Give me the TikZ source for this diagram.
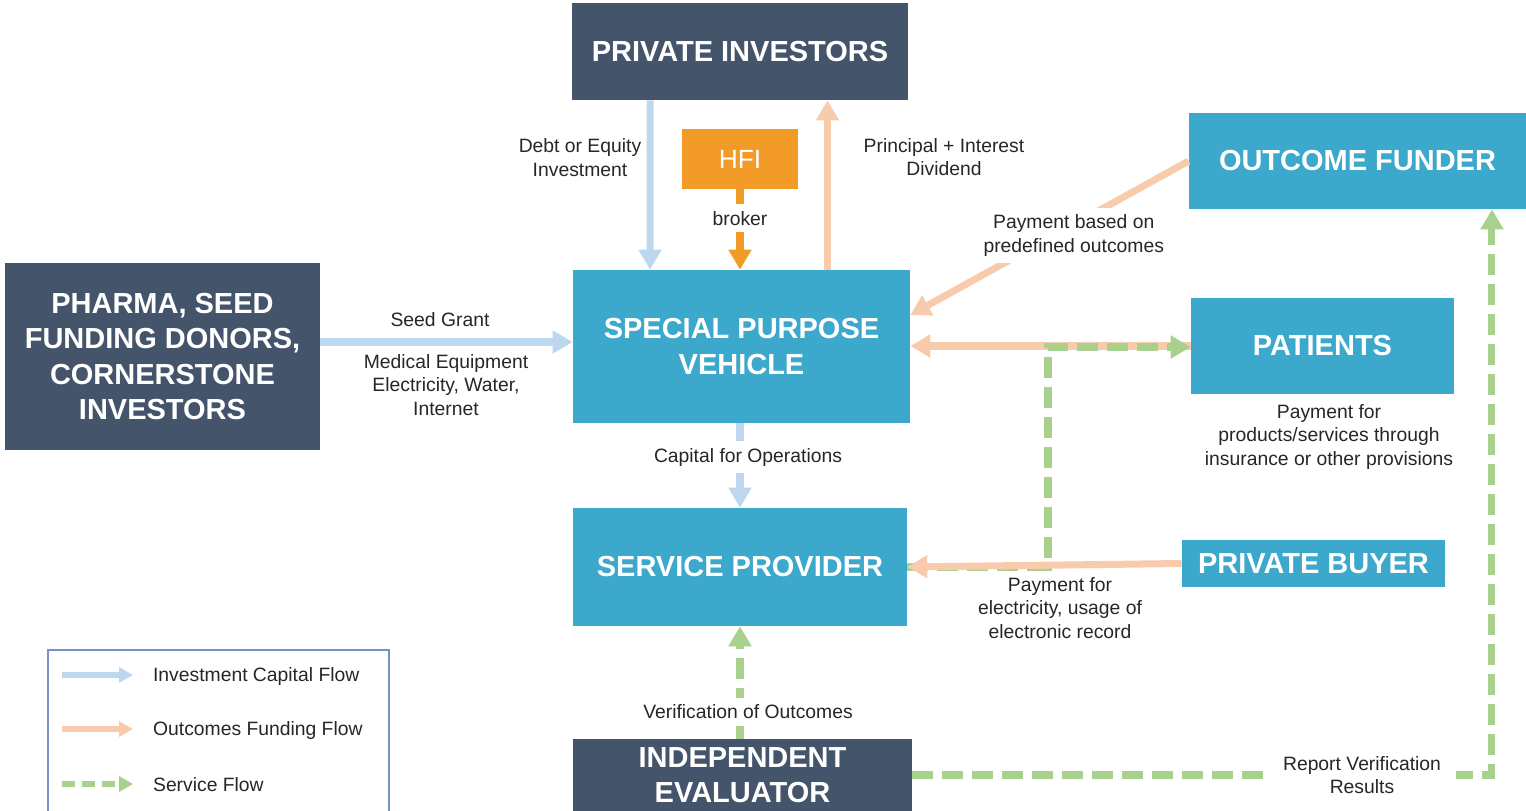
\documentclass[tikz,border=0pt]{standalone}
\usepackage{fontspec}
\setmainfont{Liberation Sans}
\usepackage{tikz}
\usetikzlibrary{arrows.meta,positioning}
\usepackage{xcolor}
\definecolor{sbslate}{RGB}{68,84,106}
\definecolor{sbblue}{RGB}{60,168,204}
\definecolor{sborange}{RGB}{242,155,40}
\definecolor{capblue}{RGB}{189,215,238}
\definecolor{fundpeach}{RGB}{248,203,173}
\definecolor{svcgreen}{RGB}{169,209,142}
\definecolor{legendedge}{RGB}{120,145,200}
\definecolor{labelgray}{RGB}{38,38,38}
\tikzstyle{slatebox} = [fill=sbslate, text=white, align=center, inner sep=0pt, font=\fontsize{16.5}{20}\selectfont\bfseries]
\tikzstyle{bluebox} = [fill=sbblue, text=white, align=center, inner sep=0pt, font=\fontsize{16.5}{20}\selectfont\bfseries]
\tikzstyle{hfibox} = [fill=sborange, text=white, align=center, inner sep=0pt, font=\fontsize{15}{18}\selectfont]
\tikzstyle{capflow} = [line width=4pt, color=capblue, -{Triangle[width=0.44cm,length=0.4cm]}]
\tikzstyle{fundflow} = [line width=4pt, color=fundpeach, -{Triangle[width=0.44cm,length=0.4cm]}]
\tikzstyle{brokerflow} = [line width=4pt, color=sborange, -{Triangle[width=0.44cm,length=0.4cm]}]
\tikzstyle{serviceflow} = [line width=4pt, color=svcgreen, dash pattern=on 0.42cm off 0.18cm, -{Triangle[width=0.44cm,length=0.4cm]}]
\tikzstyle{legendflow} = [line width=3.5pt, -{Triangle[width=0.3cm,length=0.28cm]}]
\tikzstyle{plainlabel} = [text=labelgray, align=center, inner sep=1pt, font=\fontsize{11}{13.4}\selectfont]
\tikzstyle{flowlabel} = [plainlabel, fill=white, inner sep=4pt]

\begin{document}
\begin{tikzpicture}[x=0.02cm, y=-0.02cm]
\useasboundingbox (0,0) rectangle (1526,811);
\clip (0,0) rectangle (1526,811);

% boxes
\node[slatebox, minimum width=6.72cm, minimum height=1.94cm] (investors) at (740,51.5) {PRIVATE INVESTORS};
\node[hfibox, minimum width=2.32cm, minimum height=1.2cm] (hfi) at (740,159) {HFI};
\node[bluebox, minimum width=6.74cm, minimum height=1.92cm] (funder) at (1357.5,161) {OUTCOME FUNDER};
\node[slatebox, minimum width=6.3cm, minimum height=3.74cm] (pharma) at (162.5,356.5) {PHARMA, SEED\\FUNDING DONORS,\\CORNERSTONE\\INVESTORS};
\node[bluebox, minimum width=6.74cm, minimum height=3.06cm] (spv) at (741.5,346.5) {SPECIAL PURPOSE\\VEHICLE};
\node[bluebox, minimum width=5.26cm, minimum height=1.92cm] (patients) at (1322.5,346) {PATIENTS};
\node[bluebox, minimum width=6.68cm, minimum height=2.36cm] (provider) at (740,567) {SERVICE PROVIDER};
\node[bluebox, minimum width=5.26cm, minimum height=0.94cm] (buyer) at (1313.5,563.5) {PRIVATE BUYER};
\node[slatebox, minimum width=6.78cm, minimum height=1.44cm] (evaluator) at (742.5,775) {INDEPENDENT\\EVALUATOR};

% investment capital
\draw[capflow] ([xshift=-1.8cm]investors.south) -- ([xshift=-1.83cm]spv.north);
\draw[capflow] ([yshift=0.29cm]pharma.east) -- ([yshift=0.29cm]pharma.east -| spv.west);
\draw[capflow] (spv.south -| provider.north) -- (provider.north)
  node[flowlabel, pos=0.4, xshift=0.16cm] (capops) {Capital for Operations};

% outcomes funding
\draw[fundflow] ([xshift=1.72cm]spv.north) -- ([xshift=1.72cm]spv.north |- investors.south);
\draw[fundflow] (funder.west) -- ([yshift=0.63cm]spv.east)
  node[flowlabel, pos=0.42, xshift=0.04cm, yshift=-0.2cm] (outcomepay) {Payment based on\\predefined outcomes};
\draw[fundflow] (patients.west) -- (patients.west -| spv.east);

% service to patients
\coordinate (svcturn) at (1048,347);
\draw[serviceflow] (provider.east) -| (svcturn) -- (svcturn -| patients.west);
\draw[fundflow] (buyer.west) -- (provider.east);

% broker
\draw[brokerflow] (hfi.south) -- (hfi.south |- spv.north)
  node[flowlabel, pos=0.36] (broker) {broker};

% verification
\draw[serviceflow] (evaluator.north -| provider.south) -- (provider.south)
  node[flowlabel, pos=0.24, xshift=0.16cm] (verify) {Verification of Outcomes};
\draw[serviceflow] (evaluator.east) -| ([xshift=2.69cm]funder.south);
\node[flowlabel, inner xsep=0.3cm] (report) at (1362,775) {Report Verification\\Results};

% labels
\node[plainlabel] (debt) at (580,157.5) {Debt or Equity\\Investment};
\node[plainlabel] (principal) at (944,157) {Principal + Interest\\Dividend};
\node[plainlabel] (seed) at (440,320) {Seed Grant};
\node[plainlabel] (equipment) at (446,385) {Medical Equipment\\Electricity, Water,\\Internet};
\node[plainlabel] (patientpay) at (1329,437) {Payment for\\products/services through\\insurance or other provisions};
\node[plainlabel] (buyerpay) at (1060,608) {Payment for\\electricity, usage of\\electronic record};

% legend
\draw[legendedge, line width=0.8pt] (48,650) rectangle (389,840);
\coordinate (legcapA) at (62,675);
\coordinate (legcapB) at (133,675);
\coordinate (legfundA) at (62,729);
\coordinate (legfundB) at (133,729);
\coordinate (legsvcA) at (62,784);
\coordinate (legsvcB) at (133,784);
\draw[legendflow, capblue] (legcapA) -- (legcapB);
\draw[legendflow, fundpeach] (legfundA) -- (legfundB);
\draw[legendflow, svcgreen, dash pattern=on 0.26cm off 0.14cm] (legsvcA) -- (legsvcB);
\node[plainlabel, anchor=west] (legcap) at (151,676) {Investment Capital Flow};
\node[plainlabel, anchor=west] (legfund) at (151,730) {Outcomes Funding Flow};
\node[plainlabel, anchor=west] (legsvc) at (151,785) {Service Flow};
\end{tikzpicture}
\end{document}
